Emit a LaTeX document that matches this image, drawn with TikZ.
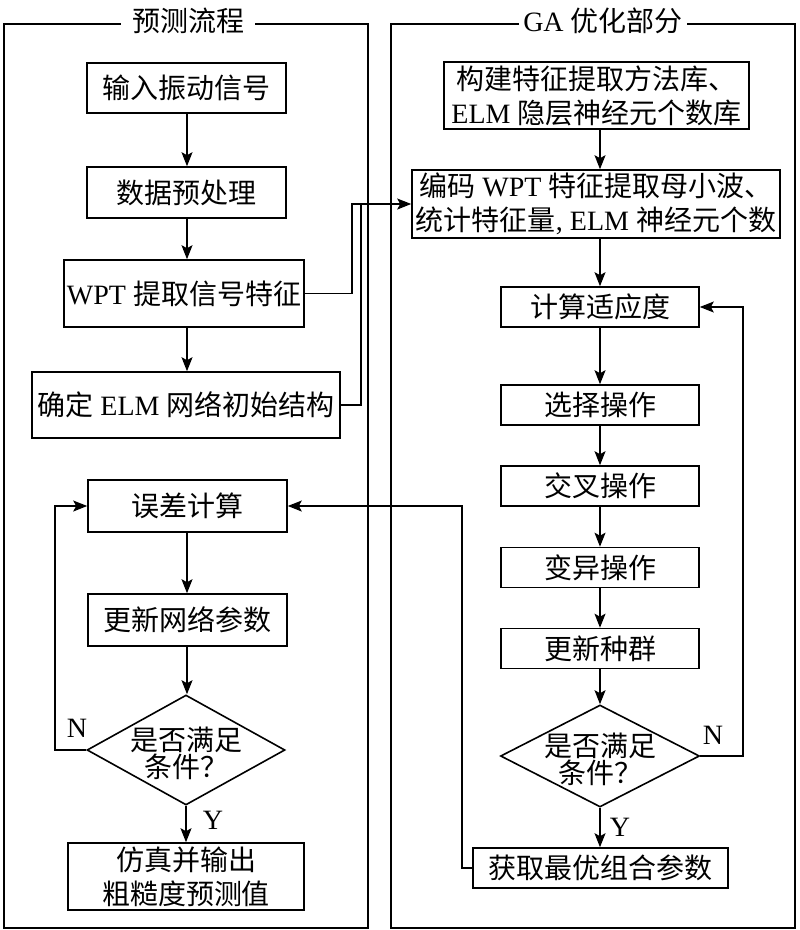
\documentclass[tikz,border=0pt]{standalone}
\usepackage{fontspec}
\setmainfont{Liberation Serif}
\newfontfamily\cjk{Noto Sans CJK SC}
\usetikzlibrary{shapes.geometric,arrows.meta}
\newcommand\zh[1]{{\cjk #1}}
\begin{document}
\begin{tikzpicture}[x=1pt,y=-1pt,
  every node/.style={font=\fontsize{28}{34}\selectfont},
  box/.style={draw, line width=1.6pt, inner sep=0pt, align=center},
  dia/.style={draw, diamond, line width=1.6pt, inner sep=0pt},
  diatext/.style={align=center, inner sep=0pt, font=\fontsize{28}{27}\selectfont},
  arr/.style={line width=1.6pt, -{Stealth[length=14pt,width=11pt,inset=3pt]}},
  ln/.style={line width=1.6pt},
  frame/.style={line width=1.6pt},
  lab/.style={inner sep=0pt},
  ttl/.style={inner ysep=0pt}]
\useasboundingbox (0,0) rectangle (800,930);

% titles and frames
\node[ttl, inner xsep=11pt] (tl) at (188,21) {\zh{预测流程}};
\node[ttl, inner xsep=4pt] (tr) at (603,21) {GA \zh{优化部分}};
\draw[frame] (tl.west |- 0,24) -- (4,24) -- (4,928) -- (368,928) -- (368,24) -- (tl.east |- 0,24);
\draw[frame] (tr.west |- 0,24) -- (391,24) -- (391,928) -- (795,928) -- (795,24) -- (tr.east |- 0,24);

% left column
\node[box, minimum width=199pt, minimum height=50pt] (n1) at (186.5,88) {\zh{输入振动信号}};
\node[box, minimum width=199pt, minimum height=51pt] (n2) at (186.5,192.5) {\zh{数据预处理}};
\node[box, minimum width=240pt, minimum height=67pt] (n3) at (184,293.5) {WPT \zh{提取信号特征}};
\node[box, minimum width=308pt, minimum height=66pt] (n4) at (186,405) {\zh{确定} ELM \zh{网络初始结构}};
\node[box, minimum width=199pt, minimum height=52pt] (n5) at (187.5,506) {\zh{误差计算}};
\node[box, minimum width=199pt, minimum height=52pt] (n6) at (187.5,620) {\zh{更新网络参数}};
\node[dia, minimum width=198pt, minimum height=110pt] (d1) at (186,750) {};
\node[diatext] (d1t) at (186,753) {\zh{是否满足}\\\zh{条件？}};
\node[box, minimum width=236pt, minimum height=67pt] (n7) at (186,876.5) {\zh{仿真并输出}\\\zh{粗糙度预测值}};

% right column
\node[box, minimum width=305pt, minimum height=67pt] (r1) at (596.5,95.5) {\zh{构建特征提取方法库、}\\ELM \zh{隐层神经元个数库}};
\node[box, minimum width=368pt, minimum height=68pt] (r2) at (596,204) {\zh{编码} WPT \zh{特征提取母小波、}\\\zh{统计特征量}, ELM \zh{神经元个数}};
\node[box, minimum width=198pt, minimum height=40pt] (r3) at (600,307) {\zh{计算适应度}};
\node[box, minimum width=198pt, minimum height=40pt] (r4) at (600,405) {\zh{选择操作}};
\node[box, minimum width=198pt, minimum height=40pt] (r5) at (600,486) {\zh{交叉操作}};
\node[box, minimum width=198pt, minimum height=40pt] (r6) at (600,567.5) {\zh{变异操作}};
\node[box, minimum width=198pt, minimum height=40pt] (r7) at (600,648.5) {\zh{更新种群}};
\node[dia, minimum width=199pt, minimum height=102pt] (d2) at (600,756) {};
\node[diatext] (d2t) at (600,759) {\zh{是否满足}\\\zh{条件？}};
\node[box, minimum width=255pt, minimum height=40pt] (r8) at (600.5,868) {\zh{获取最优组合参数}};

% labels
\node[lab] (nl) at (77,728) {N};
\node[lab] (yl) at (213,820) {Y};
\node[lab] (nr) at (713,735) {N};
\node[lab] (yr) at (620,827) {Y};

% left arrows
\draw[arr] (n1.south -| 187,0) -- (n2.north -| 187,0);
\draw[arr] (n2.south -| 187,0) -- (n3.north -| 187,0);
\draw[arr] (n3.south -| 187,0) -- (n4.north -| 187,0);
\draw[arr] (n5.south -| 187,0) -- (n6.north -| 187,0);
\draw[arr] (n6.south -| 187,0) -- (d1.north -| 187,0);
\draw[arr] (d1.south) -- (d1.south |- n7.north);
\draw[arr] (d1.west) -- (55,750) -- (55,506) -- (n5.west);

% right arrows
\draw[arr] (r3.north |- r1.south) -- (r3.north |- r2.north);
\draw[arr] (r3.north |- r2.south) -- (r3.north);
\draw[arr] (r3) -- (r4);
\draw[arr] (r4) -- (r5);
\draw[arr] (r5) -- (r6);
\draw[arr] (r6) -- (r7);
\draw[arr] (r7) -- (d2);
\draw[arr] (d2.south) -- (d2.south |- r8.north);
\draw[arr] (d2.east) -- (743,756) -- (743,307) -- (r3.east);

% cross connectors
\draw[arr] (n3.east) -- (352,293.5) -- (352,204) -- (r2.west);
\draw[ln] (n4.east) -- (361,405) -- (361,204);
\draw[arr] (r8.west) -- (462,868) -- (462,506) -- (n5.east);
\end{tikzpicture}
\end{document}
